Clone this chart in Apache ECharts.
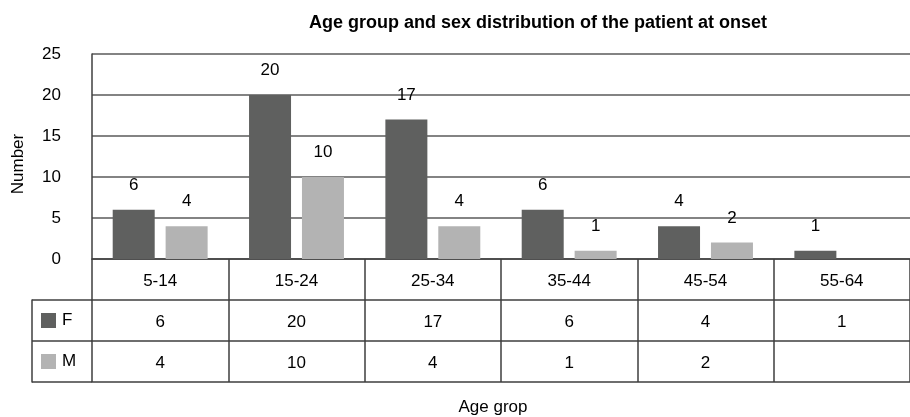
<!DOCTYPE html>
<html>
<head>
<meta charset="utf-8">
<script src="https://cdn.jsdelivr.net/npm/echarts@6/dist/echarts.min.js"></script>
<style>
  html, body { margin: 0; padding: 0; background: #fff; }
  #chart { width: 910px; height: 417px; }
</style>
</head>
<body>
<div id="chart"></div>
<script>
// Age groups at onset and patient counts by sex
const ageGroups = ['5-14', '15-24', '25-34', '35-44', '45-54', '55-64'];
const female = [6, 20, 17, 6, 4, 1];
const male = [4, 10, 4, 1, 2, null];
const yTicks = { min: 0, max: 25, interval: 5 };
const sexLabels = ['F', 'M'];

const FONT = '"Liberation Sans", Arial, sans-serif';
const FS = 17;
const COLOR_F = '#5f605f';
const COLOR_M = '#b3b3b3';
const LINE = { color: '#3f3f3f', width: 1.5 };

const chart = echarts.init(document.getElementById('chart'), null, { renderer: 'canvas' });

// Data-table row axes: each row is an extra x axis shifted below the plot
function tableRow(offset, values, showLabels) {
  return {
    type: 'category',
    gridIndex: 0,
    data: ageGroups,
    position: 'bottom',
    offset: offset,
    axisLine: { show: true, onZero: false, lineStyle: LINE },
    axisTick: { show: false },
    axisLabel: {
      show: showLabels,
      interval: 0,
      margin: 14,
      fontSize: FS,
      fontFamily: FONT,
      color: '#000',
      formatter: (v, i) => (values && values[i] != null ? String(values[i]) : '')
    },
    splitLine: { show: false }
  };
}

const option = {
  animation: false,
  textStyle: { fontFamily: FONT },
  title: {
    text: 'Age group and sex distribution of the patient at onset',
    left: 533,
    top: 9,
    textAlign: 'center',
    textStyle: { fontSize: 18, fontWeight: 'bold', color: '#000', fontFamily: FONT }
  },
  graphic: [
    {
      type: 'text', x: 18, y: 164, rotation: Math.PI / 2,
      style: { text: 'Number', fontSize: FS, fontFamily: FONT, fill: '#000', align: 'center', verticalAlign: 'middle' }
    },
    {
      type: 'text', x: 493, y: 407,
      style: { text: 'Age grop', fontSize: FS, fontFamily: FONT, fill: '#000', align: 'center', verticalAlign: 'middle' }
    }
  ],
  grid: [
    { left: 92, top: 54, width: 824, height: 205 },
    { left: 32, top: 300, width: 60, height: 82 }
  ],
  xAxis: [
    {
      type: 'category',
      gridIndex: 0,
      data: ageGroups,
      position: 'bottom',
      axisLine: { show: true, lineStyle: LINE },
      axisTick: { show: true, length: 123, interval: 0, lineStyle: LINE },
      axisLabel: { interval: 0, margin: 14, fontSize: FS, fontFamily: FONT, color: '#000' },
      splitLine: { show: false }
    },
    tableRow(41, female, true),
    tableRow(82, male, true),
    tableRow(123, null, false),
    { type: 'value', gridIndex: 1, show: false }
  ],
  yAxis: [
    {
      type: 'value',
      gridIndex: 0,
      min: yTicks.min,
      max: yTicks.max,
      interval: yTicks.interval,
      axisLine: { show: true, lineStyle: LINE },
      axisTick: { show: false },
      axisLabel: { margin: 31, fontSize: FS, fontFamily: FONT, color: '#000' },
      splitLine: { show: true, lineStyle: { color: '#5a5a5a', width: 1.5 } }
    },
    {
      // legend column of the data table
      type: 'category',
      gridIndex: 1,
      data: sexLabels,
      inverse: true,
      axisLine: { show: true, lineStyle: LINE },
      axisTick: { show: false },
      splitLine: { show: true, interval: 0, lineStyle: LINE },
      axisLabel: {
        inside: true,
        margin: 9,
        align: 'left',
        fontSize: FS,
        fontFamily: FONT,
        color: '#000',
        formatter: (v) => (v === 'F' ? '{f|}{t|F}' : '{m|}{t|M}'),
        rich: {
          f: { width: 15, height: 15, backgroundColor: COLOR_F },
          m: { width: 15, height: 15, backgroundColor: COLOR_M },
          t: { fontSize: FS, fontFamily: FONT, color: '#000', padding: [0, 0, 0, 6] }
        }
      }
    }
  ],
  series: [
    {
      name: 'F',
      type: 'bar',
      xAxisIndex: 0,
      yAxisIndex: 0,
      data: female,
      barWidth: 42,
      barGap: '26%',
      itemStyle: { color: COLOR_F },
      label: { show: true, position: 'top', distance: 16, fontSize: FS, fontFamily: FONT, color: '#000' }
    },
    {
      name: 'M',
      type: 'bar',
      xAxisIndex: 0,
      yAxisIndex: 0,
      data: male,
      barWidth: 42,
      barGap: '26%',
      itemStyle: { color: COLOR_M },
      label: { show: true, position: 'top', distance: 16, fontSize: FS, fontFamily: FONT, color: '#000' }
    }
  ]
};

chart.setOption(option);
</script>
</body>
</html>
